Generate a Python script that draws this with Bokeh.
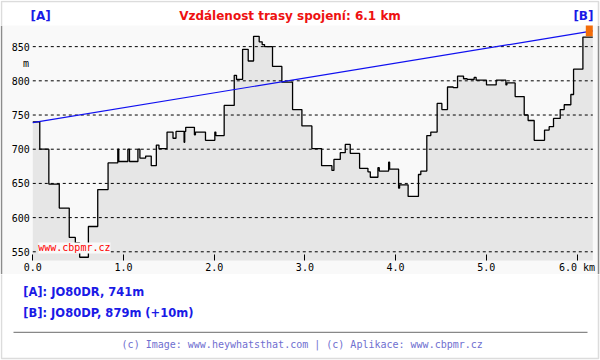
from bokeh.plotting import figure
from bokeh.models import Range1d, Label, FixedTicker, BoxAnnotation, Span, LinearAxis
from bokeh.layouts import column
from bokeh.embed import file_html
from bokeh.resources import INLINE

# ---------------- data ----------------
dist_km = [0.000, 0.077, 0.177, 0.292, 0.402, 0.469, 0.517, 0.613, 0.716, 0.830,
           0.937, 0.948, 1.048, 1.066, 1.159, 1.181, 1.244, 1.306, 1.362, 1.391,
           1.480, 1.546, 1.579, 1.668, 1.675, 1.686, 1.782, 1.793, 1.904, 2.007,
           2.018, 2.110, 2.221, 2.246, 2.313, 2.375, 2.434, 2.496, 2.529, 2.555,
           2.643, 2.746, 2.864, 2.967, 3.077, 3.184, 3.298, 3.320, 3.390, 3.445,
           3.500, 3.603, 3.695, 3.721, 3.805, 3.820, 3.923, 3.934, 4.033, 4.044,
           4.138, 4.252, 4.278, 4.344, 4.388, 4.458, 4.510, 4.572, 4.635, 4.683,
           4.749, 4.789, 4.866, 4.888, 5.002, 5.109, 5.216, 5.227, 5.318, 5.418,
           5.461, 5.528, 5.642, 5.693, 5.741, 5.815, 5.859, 5.932, 5.962, 6.065,
           6.174]
elev_m = [740, 700, 649, 614, 571, 563, 542, 587, 641, 680,
          700, 682, 700, 682, 700, 687, 690, 676, 706, 701,
          725, 716, 726, 710, 726, 732, 721, 725, 713, 725,
          720, 764, 808, 802, 846, 829, 865, 857, 853, 850,
          821, 798, 758, 734, 701, 676, 669, 685, 695, 707,
          694, 672, 667, 659, 673, 668, 681, 671, 643, 648,
          631, 663, 668, 720, 725, 767, 758, 791, 790, 807,
          803, 802, 805, 801, 794, 801, 794, 797, 777, 750,
          742, 713, 728, 733, 745, 758, 765, 780, 817, 864,
          864]

sight_dist = [0.0, 6.174]
sight_elev = [739, 873]

mast_left, mast_right = [6.097], [6.174]
mast_bottom, mast_top = [865], [885]

x_ticks = [0, 1, 2, 3, 4, 5, 6]
x_tick_labels = ["0.0", "1.0", "2.0", "3.0", "4.0", "5.0", "6.0 km"]
y_ticks = [550, 600, 650, 700, 750, 800, 850]

x_start, x_end = 0.0, 6.174          # profile extent (km)
y_floor = 537.3                       # bottom of the profile area (m)
view_x = (-0.356, 6.259)              # visible range incl. label margins
view_y = (516.8, 880.9)

title_text = "Vzdálenost trasy spojení: 6.1 km"
point_a = "[A]: JO80DR, 741m"
point_b = "[B]: JO80DP, 879m (+10m)"
footer_text = "(c) Image: www.heywhatsthat.com | (c) Aplikace: www.cbpmr.cz"

BLUE = "#1a1ae6"
RED = "#ee1111"
PANEL = "#f9f9f9"
FRAME = "#8c8c8c"
MONO = "DejaVu Sans Mono"
SANS = "DejaVu Sans"
W = 600


def blank(h):
    f = figure(frame_width=W, frame_height=h, x_range=Range1d(0, W),
               y_range=Range1d(h, 0), toolbar_location=None,
               output_backend="svg", min_border=0,
               x_axis_type=None, y_axis_type=None)
    f.grid.visible = False
    f.outline_line_color = None
    f.background_fill_color = "white"
    f.border_fill_color = "white"
    return f


# ---------------- header (page y 0..25) ----------------
top = blank(25)
top.add_layout(BoxAnnotation(left=1, right=598, top=1, bottom=60, fill_color=None,
                             line_color=FRAME, line_width=1.5))
top.add_layout(Label(x=30, y=15, text="[A]", text_font=SANS, text_font_style="bold",
                     text_font_size="12px", text_color=BLUE, text_baseline="middle"))
top.add_layout(Label(x=593, y=15, text="[B]", text_font=SANS, text_font_style="bold",
                     text_font_size="12px", text_color=BLUE, text_baseline="middle",
                     text_align="right"))
top.add_layout(Label(x=289.5, y=15, text=title_text, text_font=SANS, text_font_style="bold",
                     text_font_size="12px", text_color=RED, text_baseline="middle",
                     text_align="center"))

# ---------------- main plot (page y 25..274) ----------------
p = figure(frame_width=W, frame_height=249,
           x_range=Range1d(*view_x), y_range=Range1d(*view_y),
           toolbar_location=None, output_backend="svg", min_border=0,
           x_axis_type=None, y_axis_type=None)
p.background_fill_color = PANEL
p.border_fill_color = PANEL
p.outline_line_color = None
p.grid.visible = False

p.varea_step(x=dist_km, y1=[y_floor] * len(dist_km), y2=elev_m, step_mode="after",
             fill_color="#e6e6e6")
p.segment(x0=[x_start] * len(y_ticks), x1=[x_end] * len(y_ticks), y0=y_ticks, y1=y_ticks,
          line_color="black", line_dash="3 3", line_width=1)
p.step(dist_km, elev_m, mode="after", line_color="black", line_width=1.3)
p.line(sight_dist, sight_elev, line_color="#1010f0", line_width=1.2)
p.quad(left=mast_left, right=mast_right, bottom=mast_bottom, top=mast_top,
       fill_color="#f36d0a", line_color=None)

xaxis = LinearAxis(fixed_location=y_floor, ticker=FixedTicker(ticks=x_ticks))
xaxis.major_label_overrides = {t: s for t, s in zip(x_ticks, x_tick_labels)}
xaxis.major_tick_in = 6
xaxis.major_tick_out = 0
xaxis.major_tick_line_color = "black"
xaxis.minor_tick_line_color = None
xaxis.axis_line_color = None
xaxis.major_label_standoff = 2

yaxis = LinearAxis(fixed_location=x_start, ticker=FixedTicker(ticks=y_ticks))
yaxis.major_tick_in = 0
yaxis.major_tick_out = 0
yaxis.minor_tick_line_color = None
yaxis.axis_line_color = None
yaxis.major_label_standoff = 3

for ax in (xaxis, yaxis):
    ax.major_label_text_font = MONO
    ax.major_label_text_font_size = "10px"
    ax.major_label_text_color = "black"
p.add_layout(xaxis, "below")
p.add_layout(yaxis, "left")

p.add_layout(Label(x=-0.075, y=825, text="m", text_font=MONO, text_font_size="10px",
                   text_color="black", text_baseline="middle", text_align="center"))
p.add_layout(Label(x=0.06, y=555.6, text="www.cbpmr.cz", text_font=MONO,
                   text_font_size="10px", text_color="#ff0000", text_baseline="middle",
                   background_fill_color=PANEL))
for loc in (1, 598):
    p.add_layout(Span(location=loc, location_units="screen", dimension="height",
                      line_color=FRAME, line_width=1.5))

# ---------------- footer (page y 274..360) ----------------
bot = blank(86)
bot.add_layout(BoxAnnotation(left=1, right=598, top=-40, bottom=84, fill_color=None,
                             line_color=FRAME, line_width=1.5))
bot.add_layout(Label(x=22.7, y=17.5, text=point_a, text_font=SANS, text_font_style="bold",
                     text_font_size="11.5px", text_color=BLUE, text_baseline="middle"))
bot.add_layout(Label(x=22.7, y=38, text=point_b, text_font=SANS, text_font_style="bold",
                     text_font_size="11.5px", text_color=BLUE, text_baseline="middle"))
bot.add_layout(BoxAnnotation(left=13, right=587, top=57.2, bottom=58.4,
                             fill_color="#888888", fill_alpha=1, line_color=None))
bot.add_layout(Label(x=301.7, y=70, text=footer_text, text_font=MONO,
                     text_font_size="10px", text_color="#6f6fd0", text_baseline="middle",
                     text_align="center"))

layout = column(top, p, bot, spacing=0)
open("out.html", "w").write(file_html(layout, INLINE))
